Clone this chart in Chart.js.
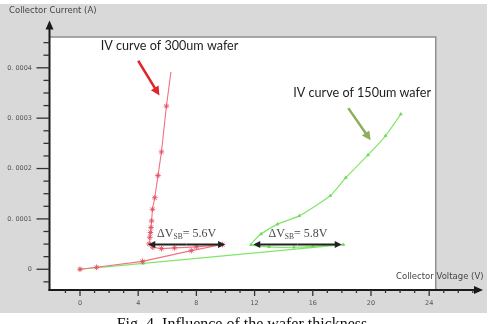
<!DOCTYPE html>
<html>
<head>
<meta charset="utf-8">
<script src="https://cdn.jsdelivr.net/npm/chart.js@4/dist/chart.umd.min.js"></script>
<style>
html,body{margin:0;padding:0;background:#fff;}
#wrap{width:489px;height:324px;position:relative;}
</style>
</head>
<body>
<div id="wrap"><canvas id="c" width="489" height="324"></canvas></div>
<script>
// ---- data ----
const wafer300Voltage = [0, 1.14, 4.3, 7.65, 9.8, 8.0, 6.5, 5.6, 5.0, 4.75, 4.8, 4.84, 4.88, 4.92, 4.98, 5.14, 5.36, 5.6, 5.94, 6.25];
const wafer300Current = [0, 0.0000039, 0.0000157, 0.000037, 0.000049, 0.0000445, 0.0000425, 0.000041, 0.0000437, 0.0000504, 0.0000635, 0.000073, 0.000083, 0.000096, 0.000119, 0.000142, 0.000186, 0.000233, 0.000324, 0.000392];
const wafer150Voltage = [0, 4.34, 18.1, 16.0, 14.7, 13.0, 11.76, 12.44, 13.58, 15.07, 17.2, 18.27, 19.8, 21.0, 22.05];
const wafer150Current = [0, 0.0000117, 0.000049, 0.0000455, 0.0000437, 0.0000445, 0.000049, 0.00007, 0.0000896, 0.000106, 0.000146, 0.000182, 0.000227, 0.000265, 0.000308];
const xTickLabels = ['0', '4', '8', '12', '16', '20', '24'];
const yTickLabels = ['0', '0. 0001', '0. 0002', '0. 0003', '0. 0004'];
const seriesNames = ['IV curve of 300um wafer', 'IV curve of 150um wafer'];
const deltaLabels = ['5.6V', '5.8V'];

const toPoints = (xs, ys) => xs.map((x, i) => ({x: x, y: ys[i]}));

const decor = {
  id: 'decor',
  beforeDraw(chart) {
    const ctx = chart.ctx, ca = chart.chartArea;
    const X = v => chart.scales.x.getPixelForValue(v);
    const Y = v => chart.scales.y.getPixelForValue(v);
    ctx.save();
    ctx.fillStyle = '#ffffff';
    ctx.fillRect(0, 0, 489, 324);
    ctx.fillStyle = '#d9d9d9';
    ctx.fillRect(0, 4, 487, 309);
    // white plot panel
    const l = ca.left, r = X(24.45), t = Y(0.000461), b = ca.bottom;
    ctx.fillStyle = '#ffffff';
    ctx.fillRect(l, t, r - l, b - t);
    ctx.strokeStyle = '#8f8f8f';
    ctx.lineWidth = 1.5;
    ctx.beginPath();
    ctx.moveTo(l, t); ctx.lineTo(r, t); ctx.lineTo(r, b);
    ctx.stroke();
    // caption
    ctx.fillStyle = '#111';
    ctx.font = '16px "Liberation Serif", serif';
    ctx.textAlign = 'center';
    ctx.textBaseline = 'alphabetic';
    ctx.fillText('Fig. 4. Influence of the wafer thickness', 242, 328.5);
    // axis titles
    ctx.fillStyle = '#454545';
    ctx.font = '8.5px "DejaVu Sans", sans-serif';
    ctx.textAlign = 'left';
    ctx.textBaseline = 'middle';
    ctx.fillText('Collector Current (A)', 9, 11);
    ctx.fillText('Collector Voltage (V)', 396, 277);
    ctx.restore();
  },
  beforeDatasetsDraw(chart) {
    const ctx = chart.ctx, ca = chart.chartArea;
    const X = v => chart.scales.x.getPixelForValue(v);
    const Y = v => chart.scales.y.getPixelForValue(v);
    ctx.save();
    ctx.strokeStyle = '#1a1a1a';
    ctx.fillStyle = '#1a1a1a';
    ctx.lineWidth = 2;
    // y axis
    ctx.beginPath();
    ctx.moveTo(ca.left, ca.bottom + 1);
    ctx.lineTo(ca.left, ca.top + 6);
    ctx.stroke();
    ctx.beginPath();
    ctx.moveTo(ca.left, ca.top - 1);
    ctx.lineTo(ca.left - 4, ca.top + 8);
    ctx.lineTo(ca.left + 4, ca.top + 8);
    ctx.closePath(); ctx.fill();
    // x axis
    ctx.beginPath();
    ctx.moveTo(ca.left - 1, ca.bottom);
    ctx.lineTo(ca.right - 6, ca.bottom);
    ctx.stroke();
    ctx.beginPath();
    ctx.moveTo(ca.right + 1, ca.bottom);
    ctx.lineTo(ca.right - 8, ca.bottom - 4);
    ctx.lineTo(ca.right - 8, ca.bottom + 4);
    ctx.closePath(); ctx.fill();
    // y ticks
    ctx.lineWidth = 1.3;
    ctx.strokeStyle = '#333';
    for (let k = -1; k <= 18; k++) {
      const y = Y(k * 0.000025);
      const major = k % 4 === 0;
      ctx.beginPath();
      ctx.moveTo(ca.left, y);
      ctx.lineTo(ca.left - (major ? 13 : 6), y);
      ctx.stroke();
    }
    // x ticks
    for (let k = -1; k <= 27; k++) {
      const x = X(k);
      const major = k % 4 === 0;
      ctx.beginPath();
      ctx.moveTo(x, ca.bottom);
      ctx.lineTo(x, ca.bottom + (major ? 6 : 3));
      ctx.stroke();
    }
    ctx.restore();
  },
  afterDatasetsDraw(chart) {
    const ctx = chart.ctx;
    const X = v => chart.scales.x.getPixelForValue(v);
    const Y = v => chart.scales.y.getPixelForValue(v);
    ctx.save();
    // series notes
    ctx.fillStyle = '#1e1e1e';
    ctx.font = '12.6px Lato, "Open Sans", sans-serif';
    ctx.textAlign = 'left';
    ctx.textBaseline = 'middle';
    ctx.fillText(seriesNames[0], X(1.42), Y(0.000444));
    ctx.fillText(seriesNames[1], X(14.66), Y(0.0003496));
    const arrow = (x1, y1, x2, y2, col, w, hl, hw) => {
      const a = Math.atan2(y2 - y1, x2 - x1);
      ctx.strokeStyle = col; ctx.fillStyle = col; ctx.lineWidth = w;
      ctx.beginPath();
      ctx.moveTo(x1, y1);
      ctx.lineTo(x2 - Math.cos(a) * hl * 0.8, y2 - Math.sin(a) * hl * 0.8);
      ctx.stroke();
      ctx.beginPath();
      ctx.moveTo(x2, y2);
      ctx.lineTo(x2 - Math.cos(a) * hl - Math.sin(a) * hw, y2 - Math.sin(a) * hl + Math.cos(a) * hw);
      ctx.lineTo(x2 - Math.cos(a) * hl + Math.sin(a) * hw, y2 - Math.sin(a) * hl - Math.cos(a) * hw);
      ctx.closePath(); ctx.fill();
    };
    arrow(X(4.0), Y(0.000414), X(5.46), Y(0.000345), '#e0262a', 2.5, 9, 4.5);
    arrow(X(18.44), Y(0.00032), X(19.98), Y(0.000256), '#8fae5c', 2.5, 9, 4.5);
    // delta V double arrows
    const dbl = (v1, v2, iv) => {
      const xa = X(v1), xb = X(v2), y = Y(iv);
      arrow((xa + xb) / 2, y, xa, y, '#222', 2, 7, 3.5);
      arrow((xa + xb) / 2, y, xb, y, '#222', 2, 7, 3.5);
    };
    dbl(4.69, 9.97, 0.000049);
    dbl(11.91, 17.99, 0.000049);
    const dtext = (v, iv, val) => {
      let x = X(v); const y = Y(iv);
      ctx.fillStyle = '#4a4a4a';
      ctx.textAlign = 'left'; ctx.textBaseline = 'alphabetic';
      ctx.font = '12px "Liberation Serif", serif';
      ctx.fillText('\u0394V', x, y + 4);
      x += ctx.measureText('\u0394V').width;
      ctx.font = '7.5px "Liberation Serif", serif';
      ctx.fillText('SB', x, y + 6);
      x += ctx.measureText('SB').width;
      ctx.font = '12px "Liberation Serif", serif';
      ctx.fillText('= ' + val, x, y + 4);
    };
    dtext(5.3, 0.0000715, deltaLabels[0]);
    dtext(12.95, 0.0000715, deltaLabels[1]);
    ctx.restore();
  }
};

new Chart(document.getElementById('c'), {
  type: 'scatter',
  data: {
    datasets: [
      {
        label: seriesNames[0],
        data: toPoints(wafer300Voltage, wafer300Current),
        showLine: true,
        borderColor: 'rgb(240,115,128)',
        borderWidth: 1.1,
        pointStyle: 'star',
        pointRadius: ctx => (ctx.dataIndex === wafer300Voltage.length - 1 ? 0 : 2.8),
        pointBorderColor: 'rgb(228,80,100)',
        pointBackgroundColor: 'rgb(228,80,100)',
        pointBorderWidth: 0.9,
        tension: 0
      },
      {
        label: seriesNames[1],
        data: toPoints(wafer150Voltage, wafer150Current),
        showLine: true,
        borderColor: 'rgb(130,230,105)',
        borderWidth: 1.2,
        pointStyle: 'triangle',
        pointRadius: 1.6,
        pointBorderColor: 'rgb(115,215,95)',
        pointBackgroundColor: 'rgb(115,215,95)',
        pointBorderWidth: 0.8,
        tension: 0.15
      }
    ]
  },
  options: {
    responsive: false,
    animation: false,
    layout: {padding: {top: 18, right: 7, left: 0, bottom: 0}},
    plugins: {legend: {display: false}, tooltip: {enabled: false}},
    scales: {
      x: {
        type: 'linear',
        min: -2.096, max: 27.63,
        grid: {display: false, drawTicks: false},
        border: {display: false},
        afterFit: s => { s.height = 34; },
        ticks: {
          stepSize: 4,
          includeBounds: false,
          autoSkip: false,
          maxRotation: 0,
          padding: 9,
          color: '#555',
          font: {family: 'DejaVu Sans', size: 6.5},
          callback: v => {
            const i = Math.round(v / 4);
            return (Math.abs(v - i * 4) < 1e-6 && i >= 0 && i < xTickLabels.length) ? xTickLabels[i] : '';
          }
        }
      },
      y: {
        type: 'linear',
        min: -0.00004118, max: 0.00049216,
        grid: {display: false, drawTicks: false},
        border: {display: false},
        afterFit: s => { s.width = 49.5; },
        ticks: {
          stepSize: 0.0001,
          includeBounds: false,
          autoSkip: false,
          padding: 17.5,
          color: '#555',
          font: {family: 'DejaVu Sans', size: 6.5},
          callback: v => {
            const i = Math.round(v / 0.0001);
            return (Math.abs(v - i * 0.0001) < 1e-9 && i >= 0 && i < yTickLabels.length) ? yTickLabels[i] : '';
          }
        }
      }
    }
  },
  plugins: [decor]
});
</script>
</body>
</html>
